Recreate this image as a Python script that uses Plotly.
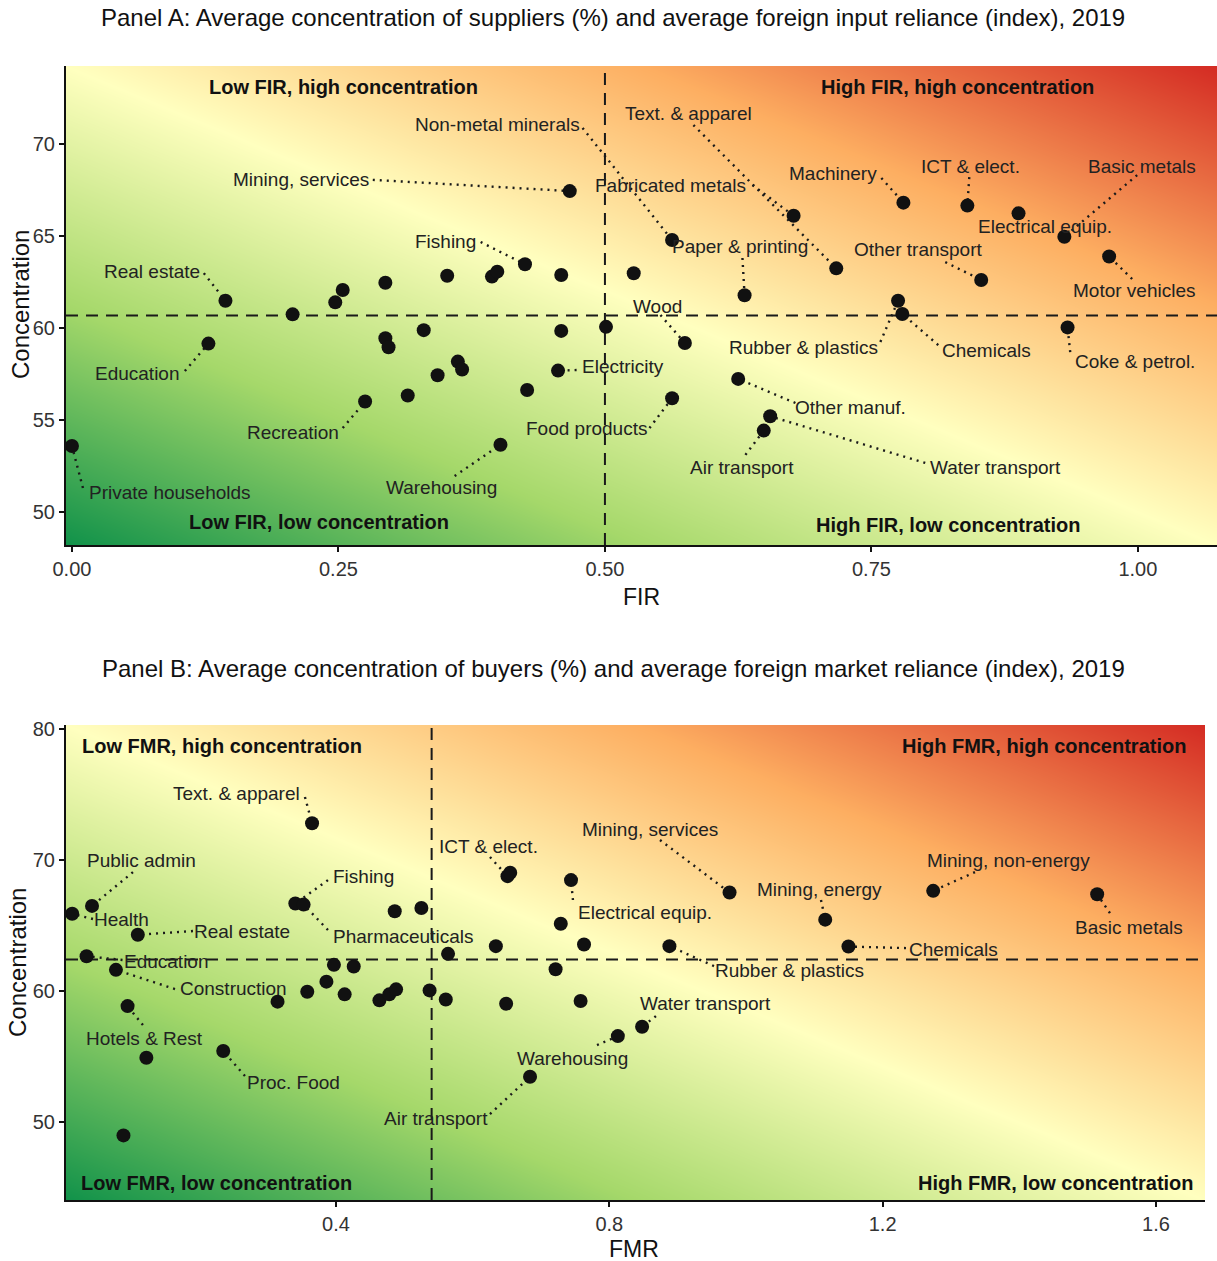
import numpy as np
import plotly.graph_objects as go

# ---------------- DATA ----------------
# Panel A: FIR vs concentration of suppliers
a_names = ["Private households", "Education", "Real estate", "", "", "", "", "Recreation",
           "", "", "", "", "", "", "", "", "", "", "Warehousing", "Fishing", "", "Electricity",
           "", "", "Mining, services", "", "", "Non-metal minerals", "Food products", "Wood",
           "Other manuf.", "Paper & printing", "Air transport", "Water transport",
           "Fabricated metals", "Text. & apparel", "Rubber & plastics", "Chemicals",
           "Machinery", "ICT & elect.", "Other transport", "Electrical equip.", "Basic metals",
           "Coke & petrol.", "Motor vehicles"]
a_fir = [0.000, 0.128, 0.144, 0.207, 0.247, 0.254, 0.294, 0.275, 0.294, 0.297, 0.315, 0.330,
         0.343, 0.352, 0.362, 0.366, 0.394, 0.399, 0.402, 0.425, 0.427, 0.456, 0.459, 0.459,
         0.467, 0.501, 0.527, 0.563, 0.563, 0.575, 0.625, 0.631, 0.649, 0.655, 0.677, 0.717,
         0.775, 0.779, 0.780, 0.840, 0.853, 0.888, 0.931, 0.934, 0.973]
a_conc = [53.6, 59.17, 61.5, 60.76, 61.41, 62.08, 62.48, 56.02, 59.46, 58.97, 56.35, 59.9,
          57.45, 62.86, 58.19, 57.76, 62.81, 63.08, 53.67, 63.48, 56.65, 57.7, 62.9, 59.86,
          67.46, 60.08, 62.99, 64.8, 56.2, 59.2, 57.25, 61.8, 54.44, 55.22, 66.12, 63.26,
          61.5, 60.78, 66.83, 66.67, 62.63, 66.25, 64.98, 60.05, 63.9]
a_ref_x = 0.5
a_ref_y = 60.7

# Panel B: FMR vs concentration of buyers
b_names = ["Health", "Public admin", "Education", "Construction", "Hotels & Rest", "",
           "Real estate", "", "Proc. Food", "", "Fishing", "Pharmaceuticals", "",
           "Text. & apparel", "", "", "", "", "", "", "", "", "", "", "", "", "", "",
           "ICT & elect.", "", "Air transport", "", "", "Electrical equip.", "", "",
           "Warehousing", "Water transport", "Rubber & plastics", "Mining, services",
           "Mining, energy", "Chemicals", "Mining, non-energy", "Basic metals"]
b_fmr = [0.014, 0.043, 0.035, 0.078, 0.095, 0.089, 0.110, 0.1225, 0.235, 0.3145, 0.3405,
         0.3526, 0.358, 0.365, 0.386, 0.397, 0.4127, 0.426, 0.4636, 0.478, 0.486, 0.488,
         0.525, 0.537, 0.5607, 0.564, 0.634, 0.649, 0.651, 0.655, 0.684, 0.7214, 0.729,
         0.744, 0.758, 0.763, 0.8125, 0.848, 0.888, 0.976, 1.116, 1.150, 1.274, 1.514]
b_conc = [65.9, 66.5, 62.66, 61.62, 58.85, 48.98, 64.3, 54.91, 55.42, 59.19, 66.68, 66.6,
          59.95, 72.81, 60.72, 62.0, 59.75, 61.87, 59.29, 59.75, 66.09, 60.13, 66.34, 60.05,
          59.36, 62.84, 63.43, 59.03, 68.77, 69.03, 53.46, 61.67, 65.14, 68.47, 59.24, 63.55,
          56.56, 57.28, 63.43, 67.52, 65.45, 63.4, 67.65, 67.39]
b_ref_x = 0.54
b_ref_y = 62.4

# ---------------- LAYOUT HELPERS (label placement) ----------------
# name -> (label x, label y, leader start x, leader start y) ; leader None = no segment
a_labels = {
    "Non-metal minerals": (0.3993, 71.10, 0.479, 70.89),
    "Mining, services": (0.2147, 68.07, 0.2822, 68.07),
    "Fishing": (0.3506, 64.74, 0.3834, 64.69),
    "Real estate": (0.075, 63.11, 0.1237, 63.0),
    "Education": (0.0619, 57.52, 0.1059, 57.68),
    "Recreation": (0.2072, 54.31, 0.254, 54.58),
    "Private households": (0.0919, 51.1, 0.0103, 51.32),
    "Warehousing": (0.3468, 51.32, 0.359, 51.97),
    "Food products": (0.4828, 54.58, 0.5418, 54.58),
    "Electricity": (0.5174, 57.9, 0.4734, 57.73),
    "Text. & apparel": (0.5784, 71.7, 0.583, 71.05),
    "Fabricated metals": (0.5615, 67.79, 0.6384, 67.79),
    "Machinery": (0.7143, 68.39, 0.7593, 68.17),
    "ICT & elect.": (0.8427, 68.82, 0.8418, 68.22),
    "Basic metals": (1.0039, 68.82, 0.9993, 68.33),
    "Electrical equip.": (0.913, 65.51, None, None),
    "Paper & printing": (0.6271, 64.47, 0.629, 63.82),
    "Other transport": (0.794, 64.31, 0.8193, 63.6),
    "Motor vehicles": (0.9965, 62.08, 0.9946, 62.68),
    "Wood": (0.5493, 61.21, 0.5521, 60.72),
    "Rubber & plastics": (0.6862, 58.98, 0.7584, 59.26),
    "Chemicals": (0.8577, 58.77, 0.8127, 59.09),
    "Coke & petrol.": (0.9974, 58.22, 0.9365, 58.71),
    "Other manuf.": (0.7302, 55.72, 0.6787, 55.94),
    "Air transport": (0.629, 52.41, 0.6318, 53.12),
    "Water transport": (0.8661, 52.41, 0.8005, 52.68),
}
b_labels = {
    "Text. & apparel": (0.2551, 75.11, 0.3546, 74.81),
    "Public admin": (0.1161, 70.0, 0.1029, 69.08),
    "Health": (0.0868, 65.5, 0.0444, 65.5),
    "Real estate": (0.2624, 64.58, 0.1907, 64.58),
    "Education": (0.1527, 62.29, 0.0876, 62.37),
    "Construction": (0.2493, 60.23, 0.1644, 60.15),
    "Hotels & Rest": (0.1205, 56.41, 0.1175, 57.4),
    "Proc. Food": (0.3385, 53.05, 0.2668, 53.51),
    "Fishing": (0.441, 68.78, 0.3883, 68.47),
    "Pharmaceuticals": (0.498, 64.2, 0.3883, 64.66),
    "ICT & elect.": (0.6239, 71.07, 0.6254, 70.23),
    "Mining, services": (0.8595, 72.37, 0.8742, 71.53),
    "Electrical equip.": (0.8522, 66.03, 0.7468, 66.95),
    "Mining, energy": (1.1083, 67.79, 1.1098, 66.95),
    "Mining, non-energy": (1.3835, 70.0, 1.3352, 69.08),
    "Basic metals": (1.5605, 64.89, 1.5327, 65.95),
    "Chemicals": (1.3044, 63.21, 1.2342, 63.28),
    "Rubber & plastics": (1.0644, 61.6, 0.9532, 61.91),
    "Water transport": (0.9415, 59.08, 0.8683, 58.09),
    "Warehousing": (0.7468, 54.89, 0.782, 55.88),
    "Air transport": (0.5463, 50.31, 0.6254, 50.61),
}
a_quad = [("Low FIR, high concentration", 0.255, 73.12), ("High FIR, high concentration", 0.8305, 73.12),
          ("Low FIR, low concentration", 0.2315, 49.47), ("High FIR, low concentration", 0.8221, 49.31)]
b_quad = [("Low FMR, high concentration", 0.2332, 78.7), ("High FMR, high concentration", 1.4361, 78.7),
          ("Low FMR, low concentration", 0.2258, 45.34), ("High FMR, low concentration", 1.4537, 45.34)]

A_XR = [-0.0056, 1.0742]
A_YR = [48.22, 74.26]
B_XR = [0.0049, 1.6718]
B_YR = [44.05, 80.31]

W, H = 1217, 1261
FONT = "Liberation Sans, Arial, sans-serif"
COLORSCALE = [[0.0, "#11924a"], [0.25, "#a5d86a"], [0.5, "#ffffbf"], [0.75, "#fdae61"], [1.0, "#d42b23"]]

fig = go.Figure()


def add_panel(xr, yr, xa, ya, xs, ys, names, labels, refx, refy):
    # gradient background
    n = 30
    gx = np.linspace(xr[0], xr[1], n)
    gy = np.linspace(yr[0], yr[1], n)
    fx = (gx - xr[0]) / (xr[1] - xr[0])
    fy = (gy - yr[0]) / (yr[1] - yr[0])
    z = (fx[None, :] + fy[:, None]) / 2.0
    fig.add_trace(go.Heatmap(x=gx, y=gy, z=z, colorscale=COLORSCALE, zmin=0, zmax=1,
                             zsmooth="best", showscale=False, hoverinfo="skip",
                             xaxis=xa, yaxis=ya))
    # reference lines
    fig.add_trace(go.Scatter(x=[refx, refx, None, xr[0], xr[1]], y=[yr[0], yr[1], None, refy, refy],
                             mode="lines", line=dict(color="#1a1a1a", width=2, dash="12px,8px"),
                             hoverinfo="skip", showlegend=False, xaxis=xa, yaxis=ya))
    # leader segments
    lx, ly = [], []
    for nm, px_, py_ in zip(names, xs, ys):
        if nm and nm in labels and labels[nm][2] is not None:
            _, _, sx, sy = labels[nm]
            lx += [sx, px_, None]
            ly += [sy, py_, None]
    fig.add_trace(go.Scatter(x=lx, y=ly, mode="lines",
                             line=dict(color="#1a1a1a", width=2.4, dash="2px,5px"),
                             hoverinfo="skip", showlegend=False, xaxis=xa, yaxis=ya))
    # points
    fig.add_trace(go.Scatter(x=xs, y=ys, mode="markers",
                             marker=dict(size=14, color="#111111"),
                             text=names, showlegend=False, xaxis=xa, yaxis=ya))
    # labels
    for nm in names:
        if nm and nm in labels:
            tx, ty = labels[nm][0], labels[nm][1]
            fig.add_annotation(x=tx, y=ty, xref=xa, yref=ya, text=nm, showarrow=False,
                               font=dict(family=FONT, size=19, color="#222222"))


add_panel(A_XR, A_YR, "x", "y", a_fir, a_conc, a_names, a_labels, a_ref_x, a_ref_y)
add_panel(B_XR, B_YR, "x2", "y2", b_fmr, b_conc, b_names, b_labels, b_ref_x, b_ref_y)

for (t, x, y) in a_quad:
    fig.add_annotation(x=x, y=y, xref="x", yref="y", text="<b>" + t + "</b>", showarrow=False,
                       font=dict(family=FONT, size=20, color="#111111"))
for (t, x, y) in b_quad:
    fig.add_annotation(x=x, y=y, xref="x2", yref="y2", text="<b>" + t + "</b>", showarrow=False,
                       font=dict(family=FONT, size=20, color="#111111"))


def pxf(xp):
    return xp / W


def pyf(yp):
    return 1 - yp / H


titles = [
    ("Panel A: Average concentration of suppliers (%) and average foreign input reliance (index), 2019", 613, 18, 0, 24),
    ("Panel B: Average concentration of buyers (%) and average foreign market reliance (index), 2019", 613, 668, 0, 24),
    ("FIR", 641, 597, 0, 23),
    ("FMR", 634, 1249, 0, 23),
    ("Concentration", 20, 305, -90, 24),
    ("Concentration", 18, 963, -90, 24),
]
for t, x, y, ang, s in titles:
    fig.add_annotation(x=pxf(x), y=pyf(y), xref="paper", yref="paper", text=t, showarrow=False,
                       textangle=ang, xanchor="center", yanchor="middle",
                       font=dict(family=FONT, size=s, color="#111111"))

axis_common = dict(showgrid=False, zeroline=False, showline=True, linecolor="#111111", linewidth=2,
                   ticks="outside", ticklen=5, tickwidth=1.5, tickcolor="#111111", automargin=False,
                   tickfont=dict(family=FONT, size=20, color="#333333"))

fig.update_layout(
    width=W, height=H, margin=dict(l=0, r=0, t=0, b=0, pad=0, autoexpand=False),
    paper_bgcolor="white", plot_bgcolor="white", showlegend=False,
    xaxis=dict(domain=[66 / W, 1.0], range=A_XR, anchor="y",
               tickvals=[0, 0.25, 0.5, 0.75, 1.0], ticktext=["0.00", "0.25", "0.50", "0.75", "1.00"],
               **axis_common),
    yaxis=dict(domain=[pyf(545), pyf(66)], range=A_YR, anchor="x",
               tickvals=[50, 55, 60, 65, 70], **axis_common),
    xaxis2=dict(domain=[66 / W, 1205 / W], range=B_XR, anchor="y2",
                tickvals=[0.4, 0.8, 1.2, 1.6], ticktext=["0.4", "0.8", "1.2", "1.6"], **axis_common),
    yaxis2=dict(domain=[pyf(1200), pyf(725)], range=B_YR, anchor="x2",
                tickvals=[50, 60, 70, 80], **axis_common),
)

fig.write_html("out.html")
